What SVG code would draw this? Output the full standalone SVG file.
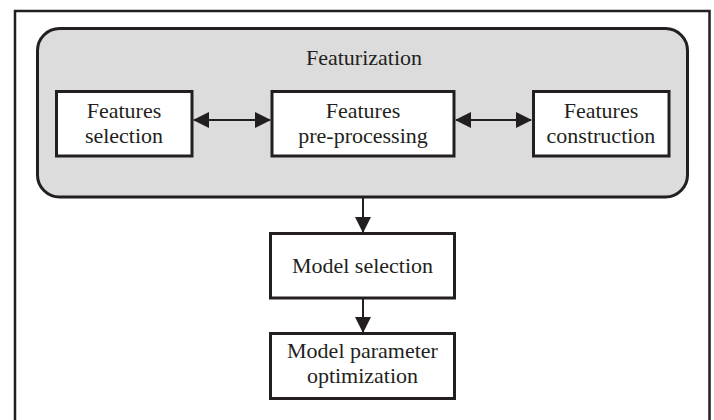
<svg xmlns="http://www.w3.org/2000/svg" width="714" height="420" viewBox="0 0 714 420">
<defs>
<style>
.box{fill:#fff;stroke:#231f20;stroke-width:3}
.t{font-family:"Liberation Serif","Times New Roman",serif;font-size:22px;fill:#231f20;text-anchor:middle}
.c{stroke:#231f20;stroke-width:2;fill:none}
</style>
<marker id="ah" viewBox="0 0 16 16" refX="15" refY="8" markerWidth="16" markerHeight="16" markerUnits="userSpaceOnUse" orient="auto-start-reverse">
<path d="M0,0 L16,8 L0,16 Z" fill="#231f20"/>
</marker>
</defs>
<rect width="714" height="420" fill="#fff"/>
<rect x="15" y="11" width="694.5" height="420" fill="#fff" stroke="#231f20" stroke-width="2.5"/>
<g id="featurization">
<rect x="37.5" y="28.5" width="650" height="168.5" rx="22" ry="22" fill="#dcdcdc" stroke="#231f20" stroke-width="3"/>
<text class="t" x="364" y="65">Featurization</text>
</g>
<g id="features-selection">
<rect class="box" x="56.5" y="91.5" width="135.5" height="64.5"/>
<text class="t" x="124" y="118">Features</text>
<text class="t" x="124" y="143">selection</text>
</g>
<g id="features-preprocessing">
<rect class="box" x="272" y="91.5" width="182" height="64.5"/>
<text class="t" x="363" y="118">Features</text>
<text class="t" x="363" y="143">pre-processing</text>
</g>
<g id="features-construction">
<rect class="box" x="533.5" y="91.5" width="135.5" height="64.5"/>
<text class="t" x="601" y="118">Features</text>
<text class="t" x="601" y="143">construction</text>
</g>
<g id="model-selection">
<rect class="box" x="270.5" y="233.5" width="184" height="64.5"/>
<text class="t" x="362.5" y="273">Model selection</text>
</g>
<g id="model-parameter-optimization">
<rect class="box" x="270.5" y="333.5" width="184" height="65"/>
<text class="t" x="362.5" y="358">Model parameter</text>
<text class="t" x="362.5" y="383">optimization</text>
</g>
<g id="connectors">
<line class="c" x1="194" y1="120" x2="270" y2="120" marker-start="url(#ah)" marker-end="url(#ah)"/>
<line class="c" x1="456" y1="120" x2="531" y2="120" marker-start="url(#ah)" marker-end="url(#ah)"/>
<line class="c" x1="363" y1="198" x2="363" y2="232" marker-end="url(#ah)"/>
<line class="c" x1="363" y1="299" x2="363" y2="332" marker-end="url(#ah)"/>
</g>
</svg>
